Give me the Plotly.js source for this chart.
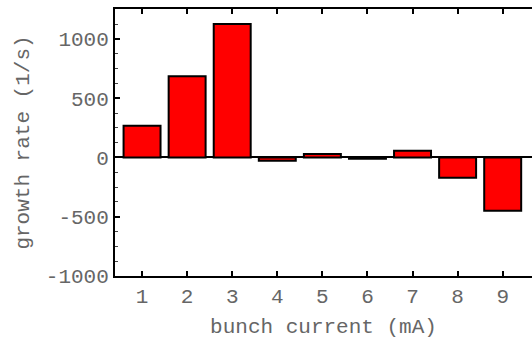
<!DOCTYPE html>
<html>
<head>
<meta charset="utf-8">
<script src="https://cdn.plot.ly/plotly-3.0.1.min.js"></script>
<style>
  html, body { margin: 0; padding: 0; background: #fff; }
  #chart { width: 532px; height: 339px; }
</style>
</head>
<body>
<div id="chart"></div>
<script>
// Growth rate of the instability per bunch-current setting
const bunchCurrent = [1, 2, 3, 4, 5, 6, 7, 8, 9];
const growthRate = [268, 685, 1127, -28, 30, -10, 57, -170, -450];
const yTickVals = [-1000, -500, 0, 500, 1000];
const yTickText = ['-1000', '-500', '0', '500', '1000'];

const textFont = { family: 'Liberation Mono, Courier New, monospace', size: 21, color: '#666' };

const trace = {
  type: 'bar',
  x: bunchCurrent,
  y: growthRate,
  width: 0.82,
  marker: { color: '#ff0000', line: { color: '#000', width: 2 } },
  hoverinfo: 'x+y'
};

const layout = {
  width: 532,
  height: 339,
  margin: { l: 115, r: 0, t: 9, b: 63 },
  paper_bgcolor: '#fff',
  plot_bgcolor: '#fff',
  showlegend: false,
  font: textFont,
  xaxis: {
    range: [0.4, 9.65],
    tickvals: bunchCurrent,
    ticktext: bunchCurrent.map(String),
    ticks: 'inside',
    ticklen: 5,
    tickwidth: 2,
    tickcolor: '#000',
    showline: true,
    linecolor: '#000',
    linewidth: 2,
    mirror: 'ticks',
    showgrid: false,
    zeroline: false,
    tickfont: textFont,
    title: { text: 'bunch current (mA)', font: textFont, standoff: 12 }
  },
  yaxis: {
    range: [-1000, 1253],
    tickvals: yTickVals,
    ticktext: yTickText,
    ticks: 'inside',
    ticklen: 5,
    tickwidth: 2,
    tickcolor: '#000',
    minor: { dtick: 125, ticks: 'inside', ticklen: 3, tickwidth: 1, tickcolor: '#444' },
    showline: true,
    linecolor: '#000',
    linewidth: 2,
    showgrid: false,
    zeroline: true,
    zerolinecolor: '#000',
    zerolinewidth: 2,
    tickfont: textFont,
    title: { text: 'growth rate (1/s)', font: textFont, standoff: 10 }
  }
};

Plotly.newPlot('chart', [trace], layout, { displayModeBar: false, staticPlot: true });
</script>
</body>
</html>
